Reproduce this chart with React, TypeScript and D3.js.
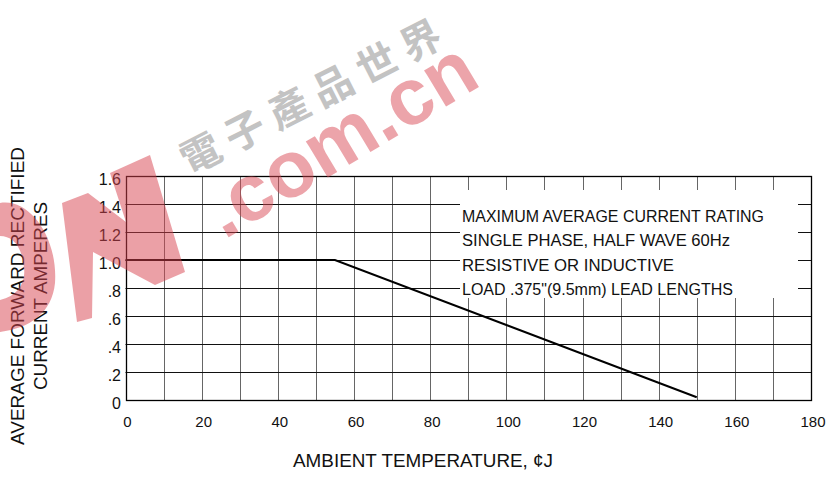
import * as d3 from "d3";

// derating curve
const tempPoints = [0, 55, 150];
const currentPoints = [1.0, 1.0, 0.02];

const xTicks = [0, 20, 40, 60, 80, 100, 120, 140, 160, 180];
const xGrid = d3.range(10, 180, 10);
const yTicks = [0, 0.2, 0.4, 0.6, 0.8, 1.0, 1.2, 1.4, 1.6];
const yTickLabels = ["0", ".2", ".4", ".6", ".8", "1.0", "1.2", "1.4", "1.6"];

const noteLines = [
  "MAXIMUM AVERAGE CURRENT RATING",
  "SINGLE PHASE, HALF WAVE 60Hz",
  "RESISTIVE OR INDUCTIVE",
  'LOAD .375"(9.5mm) LEAD LENGTHS',
];

const xTitle = "AMBIENT TEMPERATURE,  ¢J";
const yTitle = ["AVERAGE FORWARD RECTIFIED", "CURRENT AMPERES"];

const wmChars = ["電", "子", "產", "品", "世", "界"];

const W = 834;
const H = 483;
const font = "'Liberation Sans', Arial, Helvetica, sans-serif";

export default function App() {
  const x = d3.scaleLinear().domain([0, 180]).range([125.5, 811]);
  const y = d3.scaleLinear().domain([0, 1.6]).range([400, 176]);
  const px = (v: number) => Math.round(x(v)) + 0.5;
  const py = (v: number) => Math.round(y(v)) + 0.5;

  const line = d3
    .line<number>()
    .x((_, i) => x(tempPoints[i]))
    .y((d) => y(d));

  // white box behind the note text
  const box = { x0: 460, x1: 798, y0: 190, y1: 298 };

  return (
    <svg
      width={W}
      height={H}
      style={{ position: "absolute", left: 0, top: 0, background: "#fff" }}
      fontFamily={font}
    >
      <rect width={W} height={H} fill="#fff" />

      {/* grid */}
      {xGrid.map((t) => (
        <line
          key={"gx" + t}
          x1={px(t)}
          x2={px(t)}
          y1={y(1.6)}
          y2={y(0)}
          stroke="#666"
          strokeWidth={1}
        />
      ))}
      {yTicks.slice(1, -1).map((t) => (
        <line
          key={"gy" + t}
          x1={x(0)}
          x2={x(180)}
          y1={py(t)}
          y2={py(t)}
          stroke="#111"
          strokeWidth={1}
        />
      ))}

      {/* note box */}
      <rect
        x={box.x0}
        y={box.y0}
        width={box.x1 - box.x0}
        height={box.y1 - box.y0}
        fill="#fff"
      />
      {noteLines.map((s, i) => (
        <text
          key={s}
          x={462}
          y={222 + i * 24.4}
          fontSize={16}
          fill="#111"
          textLength={[302, 268, 212, 271][i]}
          lengthAdjust="spacingAndGlyphs"
        >
          {s}
        </text>
      ))}

      {/* frame */}
      <rect
        x={px(0)}
        y={py(1.6)}
        width={px(180) - px(0)}
        height={py(0) - py(1.6)}
        fill="none"
        stroke="#000"
        strokeWidth={1.3}
      />

      {/* curve */}
      <path
        d={line(currentPoints) || ""}
        fill="none"
        stroke="#000"
        strokeWidth={2}
      />

      {/* tick labels */}
      {xTicks.map((t) => (
        <text
          key={"tx" + t}
          x={x(t) + 2}
          y={427}
          fontSize={15}
          textAnchor="middle"
          fill="#111"
        >
          {t}
        </text>
      ))}
      {yTicks.map((t, i) => (
        <text
          key={"ty" + t}
          x={121}
          y={y(t) + 3}
          dy="0.35em"
          fontSize={16}
          textAnchor="end"
          fill="#111"
        >
          {yTickLabels[i]}
        </text>
      ))}

      {/* axis titles */}
      <text
        x={423}
        y={467}
        fontSize={18}
        textAnchor="middle"
        fill="#111"
        textLength={260}
        lengthAdjust="spacingAndGlyphs"
      >
        {xTitle}
      </text>
      {yTitle.map((s, i) => (
        <text
          key={s}
          transform={`translate(${24 + i * 23},296) rotate(-90)`}
          fontSize={18}
          textAnchor="middle"
          fill="#111"
          textLength={i === 0 ? 298 : 188}
          lengthAdjust="spacingAndGlyphs"
        >
          {s}
        </text>
      ))}

      {/* watermark */}
      <g pointerEvents="none">
        <g fill="#d9434f" opacity={0.5}>
          <path d="M62,203 L88,193 L126,222 L110,173 L150,155 L185,272 L155,285 L93,252 L92,318 L77,322 Z" />
          <path d="M0,203 C30,198 58,238 55,283 C52,313 30,328 0,332 L0,300 C18,296 26,282 24,268 C22,245 12,236 0,236 Z" />
        </g>
        <text
          transform="translate(224,240) rotate(-31)"
          fontSize={80}
          fontWeight="bold"
          fontFamily="'Liberation Sans', Arial, sans-serif"
          fill="#d9434f"
          opacity={0.48}
        >
          .com.cn
        </text>
        {wmChars.map((c, i) => (
          <text
            key={c}
            transform={`translate(${201 + i * 44},${154 - i * 22.6}) rotate(-27)`}
            fontSize={40}
            fontWeight="bold"
            fontFamily="'Noto Sans CJK TC', 'Noto Sans CJK SC', sans-serif"
            textAnchor="middle"
            dy="0.35em"
            fill="#888"
            opacity={0.5}
          >
            {c}
          </text>
        ))}
      </g>
    </svg>
  );
}
